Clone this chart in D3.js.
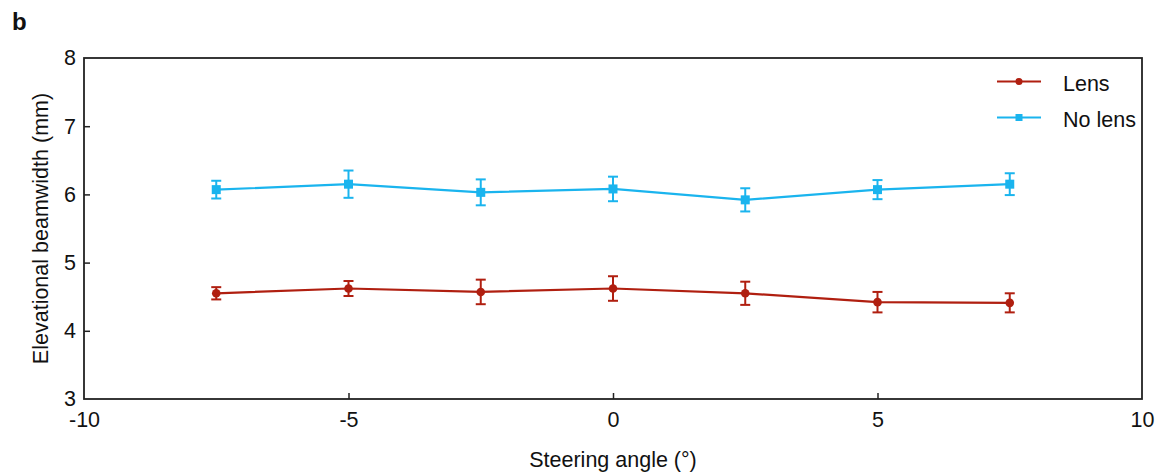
<!DOCTYPE html>
<html>
<head>
<meta charset="utf-8">
<script src="https://cdn.jsdelivr.net/npm/d3@7"></script>
<style>
  html, body { margin: 0; padding: 0; background: #fff; }
  svg { display: block; font-family: "Liberation Sans", Arial, Helvetica, sans-serif; }
</style>
</head>
<body>
<svg id="chart" width="1165" height="475"></svg>
<script>
// Steering angles (degrees)
const angles = [-7.5, -5, -2.5, 0, 2.5, 5, 7.5];
// Elevational beamwidth (mm), mean and error
const lensMean = [4.55, 4.62, 4.57, 4.62, 4.55, 4.42, 4.41];
const lensErr = [0.09, 0.11, 0.18, 0.18, 0.17, 0.15, 0.14];
const noLensMean = [6.07, 6.15, 6.03, 6.08, 5.92, 6.07, 6.15];
const noLensErr = [0.13, 0.20, 0.19, 0.18, 0.17, 0.14, 0.16];
// Axis ticks
const xTicks = [-10, -5, 0, 5, 10];
const yTicks = [3, 4, 5, 6, 7, 8];
const seriesNames = ["Lens", "No lens"];

const svg = d3.select("#chart");
const margin = { left: 84, right: 23, top: 58, bottom: 76 };
const W = 1165, H = 475;
const x = d3.scaleLinear().domain([-10, 10]).range([margin.left, W - margin.right]);
const y = d3.scaleLinear().domain([3, 8]).range([H - margin.bottom, margin.top]);

const red = "#b01f10";
const blue = "#1ab4ee";
const fs = 21.5;

// Panel letter
svg.append("text").attr("x", 12).attr("y", 30)
  .attr("font-size", 24).attr("font-weight", "bold").attr("fill", "#111").text("b");

// Frame
svg.append("rect")
  .attr("x", x(-10)).attr("y", y(8))
  .attr("width", x(10) - x(-10)).attr("height", y(3) - y(8))
  .attr("fill", "none").attr("stroke", "#222").attr("stroke-width", 1.8);

// Bottom axis (ticks pointing inward)
const xAxis = d3.axisBottom(x).tickValues(xTicks).tickSizeInner(-6).tickSizeOuter(0)
  .tickPadding(13).tickFormat(d3.format("d"));
const gx = svg.append("g").attr("transform", `translate(0,${y(3)})`).call(xAxis);
gx.select(".domain").remove();
gx.selectAll(".tick line").attr("stroke", "#222").attr("stroke-width", 1.5)
  .filter(d => d === -10 || d === 10).remove();
gx.selectAll(".tick text").attr("font-size", fs).attr("fill", "#111")
  .attr("font-family", "Liberation Sans, Arial, sans-serif")
  .text(d => d < 0 ? "-" + Math.abs(d) : d);

// Left axis (ticks pointing inward)
const yAxis = d3.axisLeft(y).tickValues(yTicks).tickSizeInner(-6).tickSizeOuter(0)
  .tickPadding(8).tickFormat(d3.format("d"));
const gy = svg.append("g").attr("transform", `translate(${x(-10)},0)`).call(yAxis);
gy.select(".domain").remove();
gy.selectAll(".tick line").attr("stroke", "#222").attr("stroke-width", 1.5)
  .filter(d => d === 3 || d === 8).remove();
gy.selectAll(".tick text").attr("font-size", fs).attr("fill", "#111")
  .attr("font-family", "Liberation Sans, Arial, sans-serif");

// Axis titles
svg.append("text").attr("x", (x(-10) + x(10)) / 2).attr("y", 467)
  .attr("text-anchor", "middle").attr("font-size", fs).attr("fill", "#111")
  .text("Steering angle (°)");
svg.append("text")
  .attr("transform", `translate(48,${(y(3) + y(8)) / 2}) rotate(-90)`)
  .attr("text-anchor", "middle").attr("font-size", fs).attr("fill", "#111")
  .text("Elevational beamwidth (mm)");

// Series
const series = [
  { name: seriesNames[0], mean: lensMean, err: lensErr, color: red, shape: "circle" },
  { name: seriesNames[1], mean: noLensMean, err: noLensErr, color: blue, shape: "square" }
];

const line = d3.line().x(d => x(d.a)).y(d => y(d.m));
const capW = 5;

series.forEach(s => {
  const pts = angles.map((a, i) => ({ a, m: s.mean[i], e: s.err[i] }));
  const g = svg.append("g");
  g.append("path").datum(pts).attr("d", line)
    .attr("fill", "none").attr("stroke", s.color).attr("stroke-width", 2.2);
  const eb = g.selectAll(".eb").data(pts).enter().append("g");
  eb.append("line").attr("x1", d => x(d.a)).attr("x2", d => x(d.a))
    .attr("y1", d => y(d.m - d.e)).attr("y2", d => y(d.m + d.e))
    .attr("stroke", s.color).attr("stroke-width", 2);
  [1, -1].forEach(sign => {
    eb.append("line")
      .attr("x1", d => x(d.a) - capW).attr("x2", d => x(d.a) + capW)
      .attr("y1", d => y(d.m + sign * d.e)).attr("y2", d => y(d.m + sign * d.e))
      .attr("stroke", s.color).attr("stroke-width", 2);
  });
  if (s.shape === "circle") {
    g.selectAll(".mk").data(pts).enter().append("circle")
      .attr("cx", d => x(d.a)).attr("cy", d => y(d.m)).attr("r", 4.3)
      .attr("fill", s.color);
  } else {
    g.selectAll(".mk").data(pts).enter().append("rect")
      .attr("x", d => x(d.a) - 4.5).attr("y", d => y(d.m) - 4.5)
      .attr("width", 9).attr("height", 9).attr("fill", s.color);
  }
});

// Legend
const legend = svg.append("g");
series.forEach((s, i) => {
  const ly = 81.5 + i * 36;
  legend.append("line").attr("x1", 997).attr("x2", 1041).attr("y1", ly).attr("y2", ly)
    .attr("stroke", s.color).attr("stroke-width", 2);
  if (s.shape === "circle") {
    legend.append("circle").attr("cx", 1019).attr("cy", ly).attr("r", 3.5).attr("fill", s.color);
  } else {
    legend.append("rect").attr("x", 1015.5).attr("y", ly - 3.5).attr("width", 7).attr("height", 7).attr("fill", s.color);
  }
  legend.append("text").attr("x", 1063).attr("y", ly + 9.5)
    .attr("font-size", fs).attr("fill", "#111").text(s.name);
});
</script>
</body>
</html>
